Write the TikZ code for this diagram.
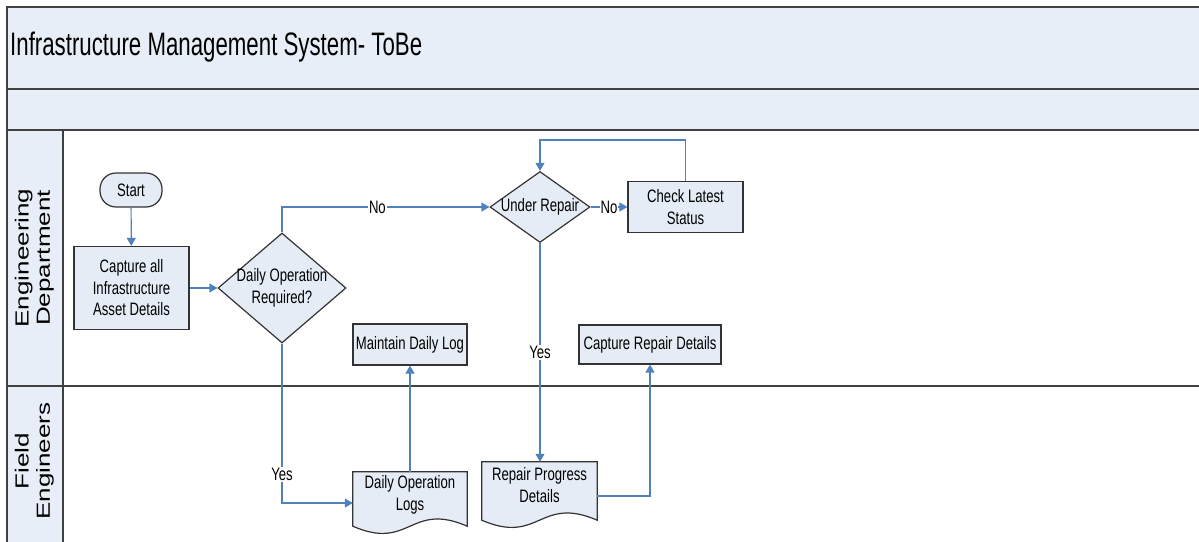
\documentclass[tikz,border=0pt]{standalone}
\usepackage{fontspec}
\usepackage{graphicx}
\usetikzlibrary{arrows.meta,shapes.geometric,backgrounds,calc}
\newfontfamily\nodefont{Liberation Sans}[FakeStretch=0.73]
\newfontfamily\headfont{Liberation Sans}[FakeStretch=0.685]
\newfontfamily\lanefont{Liberation Sans}
\definecolor{bandfill}{HTML}{E8EEF7}
\definecolor{boxfill}{HTML}{E6ECF6}
\definecolor{flowblue}{HTML}{4F81BD}
\definecolor{laneline}{HTML}{404040}
\definecolor{boxline}{HTML}{333333}
\tikzset{
  laneln/.style={draw=laneline, line width=1.8pt},
  nodetext/.style={font=\nodefont\fontsize{18}{21.5}\selectfont},
  procbox/.style={nodetext, draw=boxline, line width=1.2pt, fill=boxfill, inner sep=0pt, align=center},
  termbox/.style={procbox, rounded corners=16pt},
  decbox/.style={procbox, diamond, inner sep=-6pt},
  docbox/.style={nodetext, inner sep=0pt, align=center},
  docline/.style={draw=boxline, line width=1.2pt, fill=boxfill},
  flow/.style={draw=flowblue, line width=1.2pt},
  flowarr/.style={flow, -{Triangle[length=8pt,width=9pt]}},
  flowlbl/.style={nodetext, fill=white, inner sep=1pt},
  lanelbl/.style={rotate=90, inner sep=0pt, font=\lanefont\fontsize{26}{29}\selectfont},
}
\begin{document}
\begin{tikzpicture}[x=1pt,y=-1pt]
\useasboundingbox (0,0) rectangle (1199,541);
\clip (0,0) rectangle (1199,541);
% bands
\fill[bandfill] (7,7) rectangle (1210,130);
\fill[bandfill] (7,130) rectangle (63,560);
\draw[laneln] (7,560) -- (7,7) -- (1210,7);
\draw[laneln] (7,89) -- (1210,89);
\draw[laneln] (7,130) -- (1210,130);
\draw[laneln] (7,386) -- (1210,386);
\draw[laneln] (63,130) -- (63,560);
% title and lane labels
\node[anchor=base west, inner sep=0pt, font=\headfont\fontsize{32.5}{36}\selectfont] (title) at (10,55) {Infrastructure Management System- ToBe};
\node[lanelbl] (englbl) at (35,258) {\scalebox{1}[0.73]{\begin{tabular}{@{}c@{}}Engineering\\Department\end{tabular}}};
\node[lanelbl] (fldlbl) at (35,461) {\scalebox{1}[0.73]{\begin{tabular}{@{}c@{}}Field\\Engineers\end{tabular}}};
% nodes
\node[termbox, minimum width=62pt, minimum height=34pt] (start) at (131,190) {Start};
\node[procbox, minimum width=115pt, minimum height=83pt] (cap) at (131.5,288) {Capture all\\Infrastructure\\Asset Details};
\node[decbox, aspect=1.16, minimum width=128pt, minimum height=110pt] (dop) at (282,288) {Daily Operation\\Required?};
\node[decbox, aspect=1.41, minimum width=100pt, minimum height=71pt] (ur) at (540,207) {Under Repair};
\node[procbox, minimum width=115pt, minimum height=51pt] (chk) at (685.5,207) {Check Latest\\Status};
\node[procbox, minimum width=114pt, minimum height=41pt] (mdl) at (410,344.5) {Maintain Daily Log};
\node[procbox, minimum width=142pt, minimum height=39pt] (crd) at (650,344.5) {Capture Repair Details};
\node[docbox, minimum width=114pt, minimum height=46pt] (dol) at (410,495) {Daily Operation\\Logs};
\node[docbox, minimum width=115pt, minimum height=46pt] (rpd) at (539.5,485) {Repair Progress\\Details};
\begin{scope}[on background layer]
\path[docline] (dol.north west) -- (dol.north east) -- ($(dol.south east)+(0,8)$)
  .. controls ($(dol.south)+(0,-17)$) and ($(dol.south)+(0,33)$) .. ($(dol.south west)+(0,8)$) -- cycle;
\path[docline] (rpd.north west) -- (rpd.north east) -- ($(rpd.south east)+(0,12)$)
  .. controls ($(rpd.south)+(0,-13)$) and ($(rpd.south)+(0,37)$) .. ($(rpd.south west)+(0,12)$) -- cycle;
\end{scope}
% connectors
\draw[flowarr] (start) -- (cap);
\draw[flowarr] (cap.east) -- (cap.east -| dop.west);
\draw[flowarr] (dop.north) |- node[flowlbl, pos=0.73] {No} (ur.west);
\draw[flowarr] (ur.east) -- node[flowlbl] {No} (chk.west);
\draw[flowarr] (chk.north) -- ++(0,-41) -| (ur.north);
\draw[flowarr] (ur.south) -- node[flowlbl] {Yes} (ur.south |- rpd.north);
\draw[flowarr] (dop.south) |- node[flowlbl, pos=0.41] {Yes} ([yshift=-8pt]dol.west);
\draw[flowarr] (dol.north) -- (mdl.south);
\draw[flowarr] ([yshift=-11pt]rpd.east) -| (crd.south);
\end{tikzpicture}
\end{document}
